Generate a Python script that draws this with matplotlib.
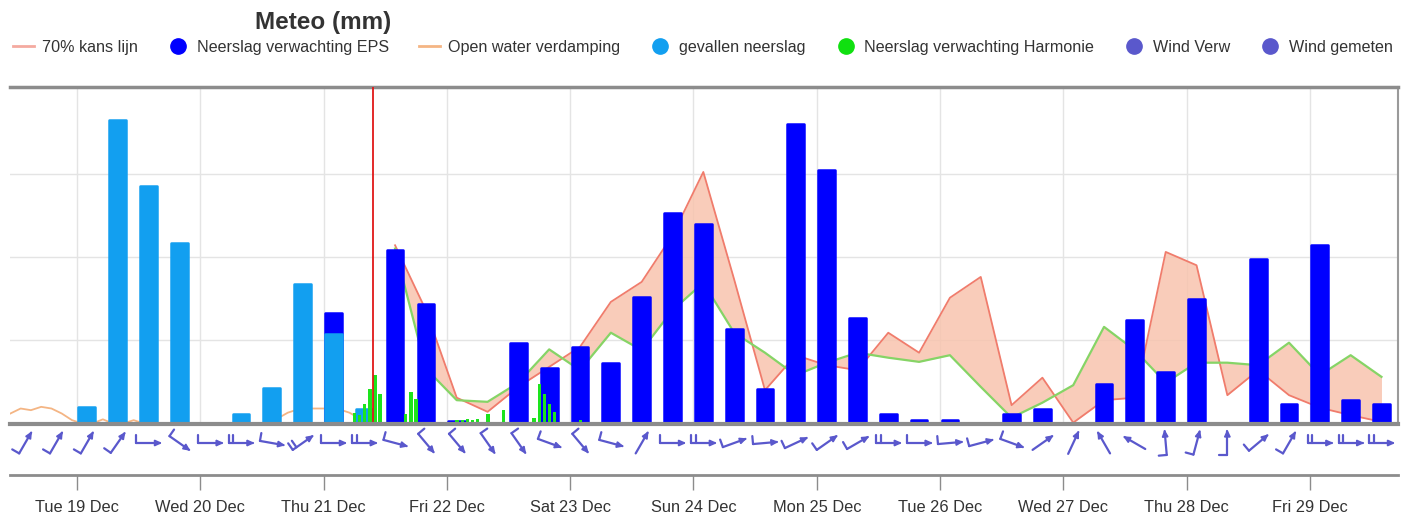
import numpy as np
import matplotlib
matplotlib.use('Agg')
import matplotlib.pyplot as plt
import matplotlib.transforms as mtransforms
from matplotlib.lines import Line2D
from matplotlib.patches import Polygon

plt.rcParams['font.family'] = ['Liberation Sans', 'DejaVu Sans']

# time axis: days after Tue 19 Dec 00:00
day_labels = ['Tue 19 Dec', 'Wed 20 Dec', 'Thu 21 Dec', 'Fri 22 Dec', 'Sat 23 Dec',
              'Sun 24 Dec', 'Mon 25 Dec', 'Tue 26 Dec', 'Wed 27 Dec', 'Thu 28 Dec',
              'Fri 29 Dec']
slot_first = 0.08   # centre of first 6-hour block
slot_step = 0.25
now_time = 2.40

# gevallen neerslag (measured), 6-hour blocks 0..9
fallen_slots = list(range(0, 10))
fallen_rain = [0.20, 3.64, 2.85, 2.17, 0.0, 0.11, 0.43, 1.67, 1.08, 0.18]

# Neerslag verwachting EPS, blocks 8..42
eps_slots = list(range(8, 43))
eps_rain = [1.33, 0.0, 2.08, 1.43, 0.03, 0.0, 0.97, 0.67, 0.92, 0.73,
            1.52, 2.53, 2.39, 1.13, 0.42, 3.60, 3.04, 1.27, 0.12, 0.04,
            0.04, 0.0, 0.12, 0.17, 0.0, 0.48, 1.24, 0.62, 1.49, 0.0,
            1.97, 0.23, 2.14, 0.28, 0.23]

# 70% kans lijn and lower edge of the band, blocks 10..42
band_slots = list(range(10, 43))
kans70 = [2.14, 1.36, 0.31, 0.14, 0.44, 0.68, 0.92, 1.46, 1.70, 2.26,
          3.02, 1.73, 0.40, 0.82, 0.70, 0.64, 1.09, 0.85, 1.51, 1.76,
          0.22, 0.55, 0.01, 0.28, 0.31, 2.06, 1.90, 0.34, 0.64, 0.34,
          0.19, 0.10, 0.02]
band_low = [2.10, 0.66, 0.28, 0.26, 0.49, 0.89, 0.64, 1.09, 0.88, 1.36,
            1.69, 1.09, 0.85, 0.58, 0.73, 0.85, 0.79, 0.74, 0.82, 0.44,
            0.07, 0.25, 0.46, 1.16, 0.88, 0.49, 0.73, 0.73, 0.70, 0.97,
            0.58, 0.82, 0.56]

# Neerslag verwachting Harmonie, hourly (hours after Tue 19 00:00)
harmonie_hours = [54, 55, 56, 57, 58, 59, 64, 65, 66,
                  74, 75, 76, 77, 78, 80, 83, 89, 90, 91, 92, 93, 98]
harmonie_rain = [0.13, 0.10, 0.24, 0.41, 0.58, 0.36, 0.12, 0.38, 0.29,
                 0.04, 0.04, 0.05, 0.04, 0.05, 0.11, 0.16, 0.07, 0.48, 0.36, 0.24, 0.14, 0.04]

# Open water verdamping, every 2 hours from evap_start
evap_start = -0.54
evap_step = 1 / 12
evap = [0.12, 0.18, 0.16, 0.20, 0.18, 0.12, 0.04, 0.0, 0.0, 0.05,
        0.0, 0.0, 0.04, 0.0, 0.0, 0.0, 0.0, 0.0, 0.0, 0.0,
        0.0, 0.0, 0.0, 0.0, 0.0, 0.0, 0.06, 0.13, 0.17, 0.18,
        0.18, 0.18, 0.17, 0.13, 0.06, 0.0]

# wind: arrow direction (deg, 0 = pointing right) and number of barbs, blocks -2..42
wind_slots = list(range(-2, 43))
wind_dir = [60, 60, 60, 55, 0, -35, 0, 0, -10, 35, 0, 0, -15, -50, -50,
            -55, -55, -20, -50, -15, 60, 0, 0, 20, 5, 25, 35, 30, 0, 0,
            5, 15, -20, 35, 65, 120, 150, 95, 75, 90, 40, 60, 0, 0, 0]
wind_barbs = [1, 1, 1, 1, 1, 1, 1, 2, 1, 2, 1, 2, 1, 1, 1,
              1, 1, 1, 1, 1, 0, 1, 2, 1, 1, 1, 1, 1, 2, 1,
              1, 1, 1, 0, 0, 0, 0, 1, 1, 1, 1, 1, 2, 2, 2]

c_eps = '#0000ff'
c_fallen = '#129ff0'
c_harm = '#1de41d'
c_red = '#f07c6c'
c_band = '#f8c4ae'
c_low = '#86d466'
c_evap = '#f4b584'
c_wind = '#5a58cc'

xmin, xmax = -0.543, 10.714
ymax = 4.04


def slot_x(slots):
    return slot_first + slot_step * np.array(slots)


fig = plt.figure(figsize=(14.13, 5.21), dpi=100)
ax = fig.add_axes([10 / 1413, 97.5 / 521, 1388 / 1413, 336.5 / 521])

ax.fill_between(slot_x(band_slots), kans70, band_low, color=c_band, alpha=0.85, lw=0, zorder=1)
ax.plot(slot_x(band_slots), kans70, color=c_red, lw=1.3, zorder=2)
ax.plot(slot_x(band_slots), band_low, color=c_low, lw=1.6, zorder=2)
ax.plot(evap_start + evap_step * np.arange(len(evap)), evap, color=c_evap, lw=1.3, zorder=2)

ax.bar(slot_x(eps_slots), eps_rain, width=0.136, color=c_eps, edgecolor=c_eps,
       lw=1.8, joinstyle='round', zorder=3)
ax.bar(slot_x(fallen_slots), fallen_rain, width=0.136, color=c_fallen, edgecolor=c_fallen,
       lw=1.8, joinstyle='round', zorder=4)
ax.bar(np.array(harmonie_hours) / 24, harmonie_rain, width=0.028, color=c_harm, lw=0, zorder=5)

ax.axvline(now_time, color='#e01818', lw=1.3, zorder=6)

ax.set_xlim(xmin, xmax)
ax.set_ylim(0, ymax)
ax.set_xticks(range(len(day_labels)))
ax.set_yticks([1, 2, 3])
ax.tick_params(left=False, bottom=False, labelleft=False, labelbottom=False)
ax.grid(True, color='#e4e4e4', lw=1)
ax.set_axisbelow(True)
ax.spines['left'].set_visible(False)
ax.spines['top'].set_color('#8c8c8c')
ax.spines['top'].set_linewidth(2.5)
ax.spines['right'].set_color('#9a9a9a')
ax.spines['right'].set_linewidth(1.5)
ax.spines['bottom'].set_color('#8c8c8c')
ax.spines['bottom'].set_linewidth(3)
ax.spines['bottom'].set_zorder(7)

# wind strip
axw = fig.add_axes([10 / 1413, 59 / 521, 1388 / 1413, 38 / 521])
axw.set_xlim(xmin, xmax)
axw.set_ylim(0, 1)
axw.set_autoscale_on(False)
axw.axis('off')

for s, ang, nb in zip(wind_slots, wind_dir, wind_barbs):
    x = slot_first + slot_step * s
    trans = fig.dpi_scale_trans + mtransforms.ScaledTranslation(x, 0.5, axw.transData)
    a = np.deg2rad(ang)
    ux, uy = np.cos(a), np.sin(a)
    px, py = -uy, ux
    L = 0.24
    tail = np.array([-ux * L / 2, -uy * L / 2])
    tip = np.array([ux * L / 2, uy * L / 2])
    axw.plot([tail[0], tip[0]], [tail[1], tip[1]], transform=trans, color=c_wind,
             lw=1.6, solid_capstyle='round', clip_on=False)
    hl, hw = 0.06, 0.028
    base = tip - np.array([ux, uy]) * hl
    head = [tip, base + np.array([px, py]) * hw, base - np.array([px, py]) * hw]
    axw.add_patch(Polygon(head, closed=True, transform=trans, color=c_wind, clip_on=False))
    for j in range(nb):
        st = tail + np.array([ux, uy]) * 0.045 * j
        axw.plot([st[0], st[0] + px * 0.08], [st[1], st[1] + py * 0.08], transform=trans,
                 color=c_wind, lw=1.6, solid_capstyle='round', clip_on=False)

# date axis
axd = fig.add_axes([10 / 1413, 46 / 521, 1388 / 1413, 0.001])
axd.set_xlim(xmin, xmax)
axd.set_xticks(range(len(day_labels)))
axd.set_xticklabels(day_labels)
axd.set_yticks([])
axd.patch.set_alpha(0)
for sp in ['left', 'right', 'top']:
    axd.spines[sp].set_visible(False)
axd.spines['bottom'].set_color('#8c8c8c')
axd.spines['bottom'].set_linewidth(2)
axd.tick_params(axis='x', length=11, width=1, color='#8c8c8c', pad=7,
                labelsize=11.8, labelcolor='#333333')

# legend and title
handles = [
    Line2D([], [], color='#f4aaa0', lw=2),
    Line2D([], [], ls='none', marker='o', ms=11, color=c_eps),
    Line2D([], [], color=c_evap, lw=2),
    Line2D([], [], ls='none', marker='o', ms=11, color=c_fallen),
    Line2D([], [], ls='none', marker='o', ms=11, color='#10e010'),
    Line2D([], [], ls='none', marker='o', ms=11, color=c_wind),
    Line2D([], [], ls='none', marker='o', ms=11, color=c_wind),
]
labels = ['70% kans lijn', 'Neerslag verwachting EPS', 'Open water verdamping',
          'gevallen neerslag', 'Neerslag verwachting Harmonie', 'Wind Verw', 'Wind gemeten']
fig.legend(handles, labels, loc='center', bbox_to_anchor=(703 / 1413, 1 - 47 / 521),
           ncol=7, frameon=False, fontsize=11.6, handlelength=1.3, handletextpad=0.5,
           columnspacing=1.85, labelcolor='#333333')

fig.text(323 / 1413, 1 - 23 / 521, 'Meteo (mm)', ha='center', va='center',
         fontsize=17.5, fontweight='bold', color='#333333')

fig.savefig('out.png', dpi=100)
